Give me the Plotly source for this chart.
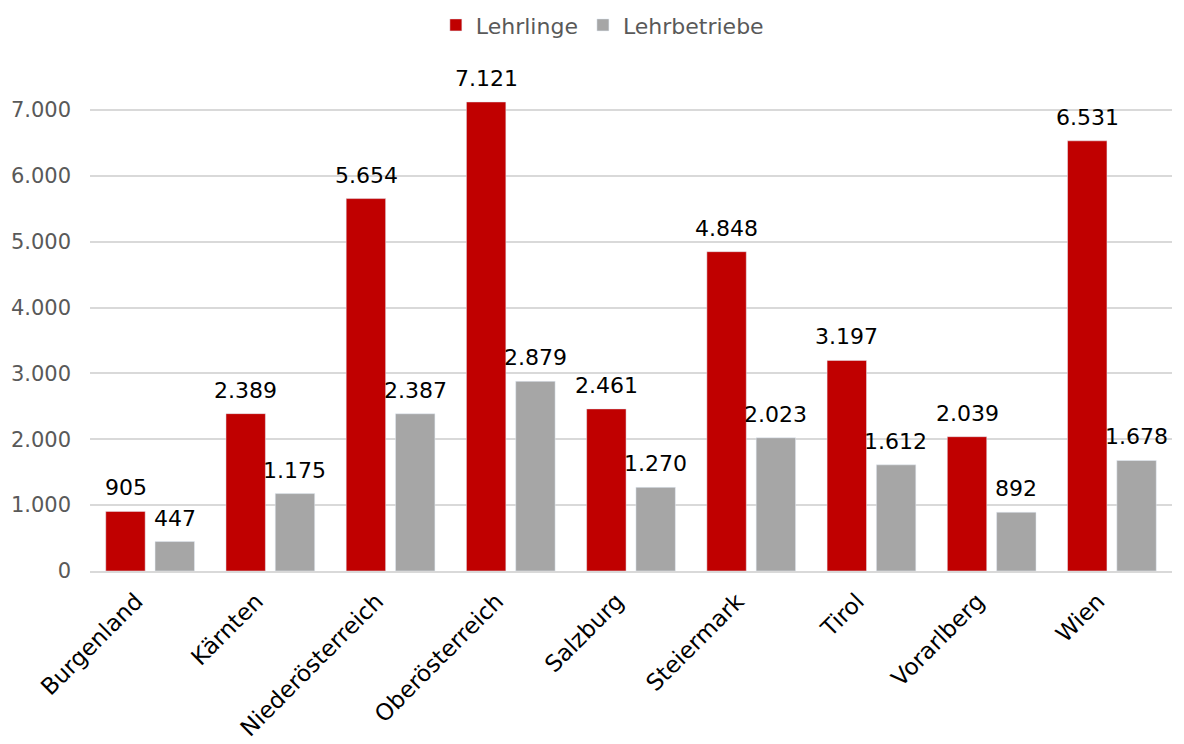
import plotly.graph_objects as go

regions = ["Burgenland", "Kärnten", "Niederösterreich", "Oberösterreich", "Salzburg",
           "Steiermark", "Tirol", "Vorarlberg", "Wien"]
lehrlinge = [905, 2389, 5654, 7121, 2461, 4848, 3197, 2039, 6531]
lehrbetriebe = [447, 1175, 2387, 2879, 1270, 2023, 1612, 892, 1678]

FONT = "DejaVu Sans"

fig = go.Figure()
fig.add_trace(go.Bar(name="Lehrlinge", x=regions, y=lehrlinge, marker_color="#C00000"))
fig.add_trace(go.Bar(name="Lehrbetriebe", x=regions, y=lehrbetriebe, marker_color="#A6A6A6"))

# value labels above the bars (offset to each bar of the group)
for vals, shift in [(lehrlinge, -24.5), (lehrbetriebe, 24.5)]:
    for reg, v in zip(regions, vals):
        fig.add_annotation(
            x=reg, y=v, xref="x", yref="y", text=f"{v:,}".replace(",", "."),
            showarrow=False, yanchor="bottom", xshift=shift, yshift=9,
            font=dict(size=22, color="#000000", family=FONT),
        )

# page body has an 8px margin, compensate in the figure margins
fig.update_layout(
    width=1184, height=744,
    separators=",.",
    font=dict(family=FONT, size=21, color="#595959"),
    plot_bgcolor="white", paper_bgcolor="white",
    margin=dict(l=82, r=20, t=69, b=181, autoexpand=False),
    barmode="group", bargap=0.18, bargroupgap=0.2,
    legend=dict(orientation="h", x=0.502, xref="container", xanchor="center",
                y=0.977, yref="container", yanchor="middle",
                font=dict(size=22, color="#595959"), itemwidth=30),
)
fig.update_yaxes(range=[0, 7500], dtick=1000, tickformat=",d", automargin=False,
                 showgrid=True, gridcolor="#D9D9D9", gridwidth=1.5,
                 zeroline=False, showline=False, ticks="", ticklabelstandoff=18,
                 tickfont=dict(size=21, color="#595959"))
fig.update_xaxes(tickangle=-45, tickfont=dict(size=23, color="#000000"), automargin=False,
                 showline=True, linecolor="#D9D9D9", linewidth=1.5, ticks="",
                 ticklabelstandoff=6, ticklabelshift=-14)

fig.write_html("out.html")
